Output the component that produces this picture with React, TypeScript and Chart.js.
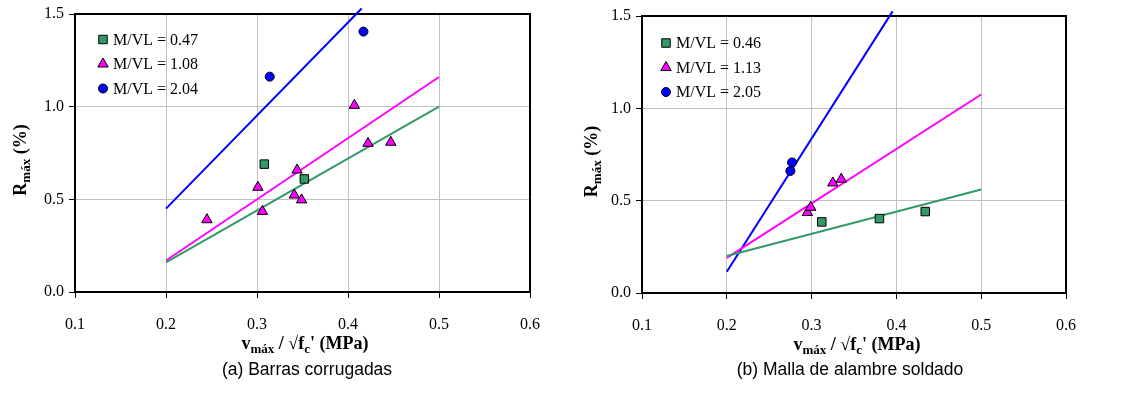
import React, { useEffect, useRef } from 'react';
import { Chart, registerables } from 'chart.js';

Chart.register(...registerables);

// Shared axis ticks
const xTickValues = [0.1, 0.2, 0.3, 0.4, 0.5, 0.6];
const xTickLabels = ['0.1', '0.2', '0.3', '0.4', '0.5', '0.6'];
const yTickValues = [0, 0.5, 1.0, 1.5];
const yTickLabels = ['0.0', '0.5', '1.0', '1.5'];

// (a) Barras corrugadas
const barrasCaption = '(a) Barras corrugadas';
const barrasLabels = ['M/VL = 0.47', 'M/VL = 1.08', 'M/VL = 2.04'];
const barrasLowX = [0.308, 0.352];
const barrasLowY = [0.69, 0.61];
const barrasMidX = [0.245, 0.301, 0.306, 0.344, 0.341, 0.349, 0.407, 0.422, 0.447];
const barrasMidY = [0.39, 0.565, 0.435, 0.658, 0.523, 0.497, 1.007, 0.802, 0.808];
const barrasHighX = [0.314, 0.417];
const barrasHighY = [1.162, 1.405];
const barrasLowFitX = [0.2, 0.5];
const barrasLowFitY = [0.16, 1.0];
const barrasMidFitX = [0.2, 0.5];
const barrasMidFitY = [0.17, 1.16];
const barrasHighFitX = [0.2, 0.415];
const barrasHighFitY = [0.45, 1.53];

// (b) Malla de alambre soldado
const mallaCaption = '(b) Malla de alambre soldado';
const mallaLabels = ['M/VL = 0.46', 'M/VL = 1.13', 'M/VL = 2.05'];
const mallaLowX = [0.312, 0.38, 0.434];
const mallaLowY = [0.385, 0.403, 0.441];
const mallaMidX = [0.295, 0.299, 0.325, 0.335];
const mallaMidY = [0.436, 0.464, 0.596, 0.616];
const mallaHighX = [0.277, 0.275];
const mallaHighY = [0.707, 0.661];
const mallaLowFitX = [0.2, 0.5];
const mallaLowFitY = [0.2, 0.56];
const mallaMidFitX = [0.2, 0.5];
const mallaMidFitY = [0.19, 1.075];
const mallaHighFitX = [0.2, 0.3955];
const mallaHighFitY = [0.115, 1.525];

const GREEN = '#339966';
const MAGENTA = '#ff00ff';
const BLUE = '#0000ff';
const SERIF = "'Liberation Serif', 'Times New Roman', serif";
const SANS = "'Liberation Sans', Arial, sans-serif";

type Part = { t: string; sub?: boolean };
const xTitleParts: Part[] = [
  { t: 'v' }, { t: 'máx', sub: true }, { t: ' / √f' }, { t: 'c', sub: true }, { t: "' (MPa)" },
];
const yTitleParts: Part[] = [{ t: 'R' }, { t: 'máx', sub: true }, { t: ' (%)' }];

const pts = (xs: number[], ys: number[]) => xs.map((x, i) => ({ x, y: ys[i] }));

function drawRich(ctx: CanvasRenderingContext2D, parts: Part[], cx: number, baseline: number) {
  const fontOf = (p: Part) => `bold ${p.sub ? 13 : 18}px ${SERIF}`;
  const widths = parts.map((p) => {
    ctx.font = fontOf(p);
    return ctx.measureText(p.t).width;
  });
  const total = widths.reduce((a, b) => a + b, 0);
  let x = cx - total / 2;
  ctx.textAlign = 'left';
  ctx.textBaseline = 'alphabetic';
  ctx.fillStyle = '#000';
  parts.forEach((p, i) => {
    ctx.font = fontOf(p);
    ctx.fillText(p.t, x, baseline + (p.sub ? 4 : 0));
    x += widths[i];
  });
}

function drawMarker(ctx: CanvasRenderingContext2D, style: string, x: number, y: number, r: number, fill: string) {
  ctx.beginPath();
  if (style === 'rect') {
    const s = r * Math.SQRT1_2;
    ctx.rect(x - s, y - s, 2 * s, 2 * s);
  } else if (style === 'triangle') {
    const a = (2 * Math.PI) / 3;
    for (let k = 0; k < 3; k++) {
      const rad = k * a;
      const px = x + Math.sin(rad) * r;
      const py = y - Math.cos(rad) * r;
      if (k === 0) ctx.moveTo(px, py);
      else ctx.lineTo(px, py);
    }
    ctx.closePath();
  } else {
    ctx.arc(x, y, r, 0, Math.PI * 2);
  }
  ctx.fillStyle = fill;
  ctx.fill();
  ctx.lineWidth = 1;
  ctx.strokeStyle = '#000';
  ctx.stroke();
}

type Layout = {
  left: number;
  width: number;
  area: { left: number; right: number; top: number; bottom: number };
  legendX: number;
  legendY: number;
  yTitleX: number;
  xTitleCx: number;
  xTitleBase: number;
  captionCx: number;
  captionBase: number;
};

const panelDecor = {
  id: 'panelDecor',
  beforeDatasetsDraw(chart: any) {
    const { ctx, chartArea: a } = chart;
    ctx.save();
    ctx.strokeStyle = '#000';
    ctx.lineWidth = 2;
    ctx.strokeRect(a.left, a.top, a.right - a.left, a.bottom - a.top);
    ctx.restore();
  },
  afterDraw(chart: any, _args: any, opts: any) {
    const { ctx, chartArea: a } = chart;
    const lay: Layout = opts.layout;
    ctx.save();
    // inset legend with the marker datasets only
    const marks = chart.data.datasets.filter((d: any) => !d.showLine);
    marks.forEach((d: any, i: number) => {
      const y = lay.legendY + i * 24.5;
      drawMarker(ctx, d.pointStyle, lay.legendX, y, d.pointStyle === 'circle' ? 4.5 : 6, d.pointBackgroundColor);
      ctx.font = `16px ${SERIF}`;
      ctx.fillStyle = '#000';
      ctx.textAlign = 'left';
      ctx.textBaseline = 'middle';
      ctx.fillText(d.label, lay.legendX + 10, y + 1);
    });
    // axis titles
    drawRich(ctx, xTitleParts, lay.xTitleCx, lay.xTitleBase);
    ctx.save();
    ctx.translate(lay.yTitleX, (a.top + a.bottom) / 2 + 7);
    ctx.rotate(-Math.PI / 2);
    drawRich(ctx, yTitleParts, 0, 0);
    ctx.restore();
    // caption
    ctx.font = `17.5px ${SANS}`;
    ctx.fillStyle = '#000';
    ctx.textAlign = 'center';
    ctx.textBaseline = 'alphabetic';
    ctx.fillText(opts.caption, lay.captionCx, lay.captionBase);
    ctx.restore();
  },
};

type PanelProps = {
  layout: Layout;
  caption: string;
  labels: string[];
  low: [number[], number[]];
  mid: [number[], number[]];
  high: [number[], number[]];
  lowFit: [number[], number[]];
  midFit: [number[], number[]];
  highFit: [number[], number[]];
};

function Panel(props: PanelProps) {
  const ref = useRef<HTMLCanvasElement>(null);
  useEffect(() => {
    if (!ref.current) return;
    const lay = props.layout;
    const H = 394;
    const marker = (label: string, data: [number[], number[]], style: string, color: string, r: number) => ({
      label,
      data: pts(data[0], data[1]),
      showLine: false,
      pointStyle: style,
      pointRadius: r,
      pointHoverRadius: r,
      pointBackgroundColor: color,
      pointBorderColor: '#000',
      pointBorderWidth: 1,
      order: 0,
    });
    const fit = (data: [number[], number[]], color: string, clip: boolean) => ({
      label: '',
      data: pts(data[0], data[1]),
      showLine: true,
      borderColor: color,
      borderWidth: 2,
      pointRadius: 0,
      fill: false,
      order: 1,
      clip: clip ? undefined : false,
    });
    const chart = new Chart(ref.current, {
      type: 'scatter',
      data: {
        datasets: [
          marker(props.labels[0], props.low, 'rect', GREEN, 6),
          marker(props.labels[1], props.mid, 'triangle', MAGENTA, 6),
          marker(props.labels[2], props.high, 'circle', BLUE, 4.5),
          fit(props.lowFit, GREEN, true),
          fit(props.midFit, MAGENTA, true),
          fit(props.highFit, BLUE, false),
        ] as any,
      },
      plugins: [panelDecor as any],
      options: {
        responsive: false,
        animation: false,
        layout: {
          padding: { left: 0, top: lay.area.top, right: lay.width - lay.area.right, bottom: 0 },
        },
        scales: {
          x: {
            type: 'linear',
            min: 0.1,
            max: 0.6,
            afterBuildTicks: (s: any) => {
              s.ticks = xTickValues.map((v) => ({ value: v }));
            },
            afterFit: (s: any) => {
              s.height = H - lay.area.bottom;
              s.paddingLeft = 0;
              s.paddingRight = 0;
            },
            ticks: {
              autoSkip: false,
              maxRotation: 0,
              padding: 17,
              color: '#000',
              font: { family: SERIF, size: 16 },
              callback: (v: any) => xTickLabels[xTickValues.indexOf(v)],
            },
            grid: { color: '#c0c0c0', lineWidth: 1, tickColor: '#000', tickLength: 6, tickWidth: 1 },
            border: { display: false },
          },
          y: {
            type: 'linear',
            min: 0,
            max: 1.5,
            afterBuildTicks: (s: any) => {
              s.ticks = yTickValues.map((v) => ({ value: v }));
            },
            afterFit: (s: any) => {
              s.width = lay.area.left;
              s.paddingTop = 0;
              s.paddingBottom = 0;
            },
            ticks: {
              padding: 5,
              color: '#000',
              font: { family: SERIF, size: 16 },
              callback: (v: any) => yTickLabels[yTickValues.indexOf(v)],
            },
            grid: { color: '#c0c0c0', lineWidth: 1, tickColor: '#000', tickLength: 6, tickWidth: 1 },
            border: { display: false },
          },
        },
        plugins: {
          legend: { display: false },
          tooltip: { enabled: false },
          panelDecor: { layout: lay, caption: props.caption },
        } as any,
      },
    });
    return () => chart.destroy();
  }, []);
  const lay = props.layout;
  return (
    <canvas
      ref={ref}
      width={lay.width}
      height={394}
      style={{ position: 'absolute', left: lay.left, top: 0, width: lay.width, height: 394 }}
    />
  );
}

const leftLayout: Layout = {
  left: 0,
  width: 561,
  area: { left: 75, right: 530, top: 14, bottom: 292 },
  legendX: 103,
  legendY: 39.5,
  yTitleX: 26,
  xTitleCx: 305,
  xTitleBase: 349,
  captionCx: 307,
  captionBase: 375,
};

const rightLayout: Layout = {
  left: 561,
  width: 562,
  area: { left: 81, right: 505, top: 16, bottom: 293 },
  legendX: 105,
  legendY: 43,
  yTitleX: 36,
  xTitleCx: 296,
  xTitleBase: 350,
  captionCx: 289,
  captionBase: 375,
};

export default function App() {
  return (
    <div style={{ position: 'fixed', left: 0, top: 0, width: 1123, height: 394, background: '#fff' }}>
      <Panel
        layout={leftLayout}
        caption={barrasCaption}
        labels={barrasLabels}
        low={[barrasLowX, barrasLowY]}
        mid={[barrasMidX, barrasMidY]}
        high={[barrasHighX, barrasHighY]}
        lowFit={[barrasLowFitX, barrasLowFitY]}
        midFit={[barrasMidFitX, barrasMidFitY]}
        highFit={[barrasHighFitX, barrasHighFitY]}
      />
      <Panel
        layout={rightLayout}
        caption={mallaCaption}
        labels={mallaLabels}
        low={[mallaLowX, mallaLowY]}
        mid={[mallaMidX, mallaMidY]}
        high={[mallaHighX, mallaHighY]}
        lowFit={[mallaLowFitX, mallaLowFitY]}
        midFit={[mallaMidFitX, mallaMidFitY]}
        highFit={[mallaHighFitX, mallaHighFitY]}
      />
    </div>
  );
}
